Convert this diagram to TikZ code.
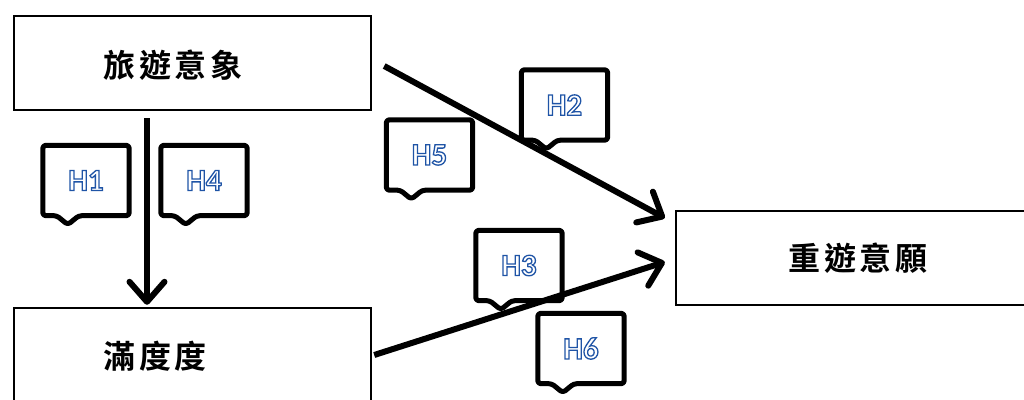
\documentclass[tikz,border=0pt]{standalone}
\usepackage{fontspec}
\usetikzlibrary{arrows.meta}

\newfontfamily\cjk{Noto Sans CJK TC}[BoldFont = * Bold]
\newfontfamily\hypfont{Carlito}

% outlined blue text
\newcommand{\outlined}[1]{%
  \special{pdf:literal direct q 1 1 1 rg 0.12 0.33 0.65 RG 2 Tr 1.3 w}#1\special{pdf:literal direct 0 Tr Q}}

% callout with a small pointer at the bottom
\newcommand{\hypnote}[3]{%
  \node[hyp] (#1) at (#2) {\outlined{#3}};
  \draw[hyp border] (#1.north west) -- (#1.north east) -- (#1.south east)
    -- ([xshift=36pt]#1.south west) -- ([xshift=25pt, yshift=-9pt]#1.south west)
    -- ([xshift=14pt]#1.south west) -- (#1.south west) -- cycle;
}

\begin{document}
\begin{tikzpicture}[x = 1pt, y = -1pt]
  % styles
  \tikzstyle{concept} = [draw, line width = 2.4pt, inner sep = 0pt, minimum width = 357pt, minimum height = 94pt]
  \tikzstyle{concept label} = [anchor = west, inner sep = 0pt, font = \cjk\bfseries\fontsize{32}{32}\selectfont\addfontfeature{LetterSpace=12}]
  \tikzstyle{hyp} = [inner sep = 0pt, minimum width = 86pt, minimum height = 70pt, font = \hypfont\bfseries\fontsize{31}{31}\selectfont]
  \tikzstyle{hyp border} = [line width = 5pt, rounded corners = 3pt, line join = round]
  \tikzstyle{path} = [line width = 6pt, -{Straight Barb[length = 20pt, width = 35pt, round]}]

  \useasboundingbox (0, 0) rectangle (1024, 399);

  % constructs
  \node[concept] (image) at (192.5, 63) {};
  \node[concept] (satisf) at (192.5, 355) {};
  \node[concept, minimum width = 365pt] (revisit) at (858.5, 258) {};
  \node[concept label] (imagetxt) at (103, 65) {旅遊意象};
  \node[concept label] (satisftxt) at (103, 356) {滿度度};
  \node[concept label] (revisittxt) at (788, 258) {重遊意願};

  % hypotheses
  \hypnote{h1}{86, 180.5}{H1}
  \hypnote{h4}{204, 180.5}{H4}
  \hypnote{h5}{429.5, 155}{H5}
  \hypnote{h2}{564.5, 105}{H2}
  \hypnote{h3}{519, 265.5}{H3}
  \hypnote{h6}{581, 348.5}{H6}

  % paths
  \draw[path] ([xshift = -45.5pt, yshift = -7pt]image.south) -- ([xshift = -45.5pt, yshift = 2pt]satisf.north);
  \draw[path] ([xshift = 12pt, yshift = -3pt]image.east) -- ([xshift = -10pt, yshift = 40pt]revisit.west);
  \draw[path] ([xshift = 2pt]satisf.east) -- ([xshift = -10pt, yshift = -4pt]revisit.west);

\end{tikzpicture}
\end{document}
